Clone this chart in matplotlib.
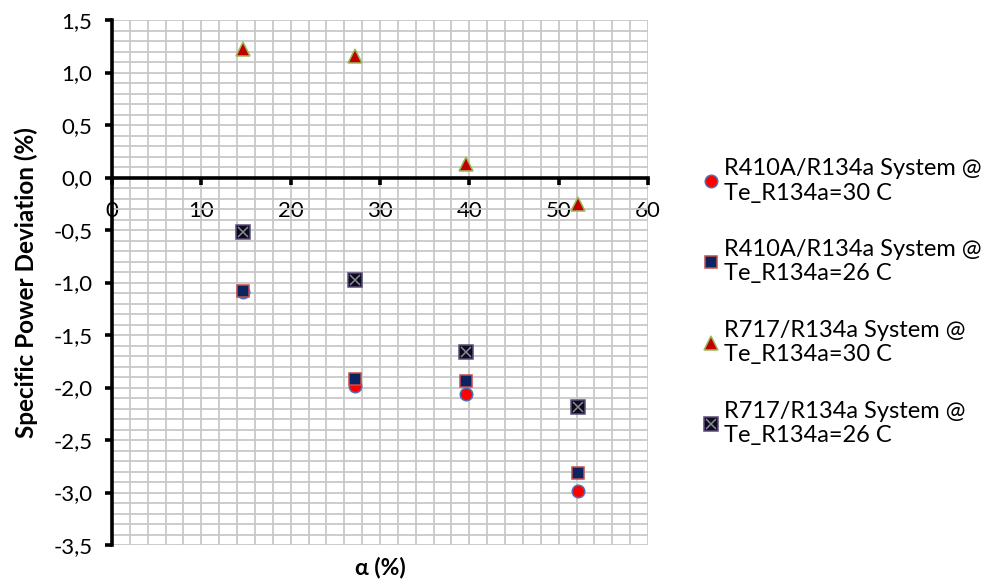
import matplotlib
matplotlib.use("Agg")
import matplotlib.pyplot as plt
from matplotlib.ticker import MultipleLocator, FuncFormatter

plt.rcParams['font.family'] = ['Lato', 'DejaVu Sans']

alpha = [14.7, 27.2, 39.6, 52.2]
r410a_30 = [-1.09, -1.99, -2.06, -2.99]
r410a_26 = [-1.08, -1.92, -1.94, -2.81]
r717_30 = [1.22, 1.16, 0.13, -0.25]
r717_26 = [-0.52, -0.98, -1.66, -2.19]

labels = [
    "R410A/R134a System @\nTe_R134a=30 C",
    "R410A/R134a System @\nTe_R134a=26 C",
    "R717/R134a System @\nTe_R134a=30 C",
    "R717/R134a System @\nTe_R134a=26 C",
]
x_ticks = [0, 10, 20, 30, 40, 50, 60]
y_ticks = [-3.5, -3.0, -2.5, -2.0, -1.5, -1.0, -0.5, 0.0, 0.5, 1.0, 1.5]

fig = plt.figure(figsize=(9.92, 5.8), dpi=100)
ax = fig.add_axes([0.1129, 0.0603, 0.5403, 0.9052])

ax.set_xlim(0, 60)
ax.set_ylim(-3.5, 1.5)
ax.set_xticks(x_ticks)
ax.set_yticks(y_ticks)
ax.xaxis.set_minor_locator(MultipleLocator(2))
ax.yaxis.set_minor_locator(MultipleLocator(0.1))
ax.grid(True, which='both', color='#c8c8c8', linewidth=1.3, zorder=0)
ax.set_axisbelow(True)

for s in ['top', 'right']:
    ax.spines[s].set_visible(False)
ax.spines['bottom'].set_position(('data', 0))
ax.spines['bottom'].set_linewidth(2.6)
ax.spines['left'].set_linewidth(2.6)
ax.tick_params(which='major', direction='out', length=5, width=2.6, labelsize=16, colors='black')
ax.tick_params(which='minor', length=0)
ax.tick_params(axis='x', pad=12)
ax.tick_params(axis='y', pad=9)
ax.yaxis.set_major_formatter(FuncFormatter(lambda v, p: f"{v:.1f}".replace('.', ',')))

h1, = ax.plot(alpha, r410a_30, 'o', ms=9, mfc='#ff0000', mec='#4f6fb0', mew=1.1, ls='none', zorder=3)
h2, = ax.plot(alpha, r410a_26, 's', ms=9, mfc='#0b2461', mec='#c0504d', mew=1.1, ls='none', zorder=4)
h3, = ax.plot(alpha, r717_30, '^', ms=9.5, mfc='#c00000', mec='#9bbb59', mew=1.1, ls='none', zorder=5)
h4a, = ax.plot(alpha, r717_26, 's', ms=9.5, mfc='#0d0d14', mec='#5b4a80', mew=1.1, ls='none', zorder=5)
h4b, = ax.plot(alpha, r717_26, 'x', ms=7, mec='#8a86a8', mew=1.1, ls='none', zorder=6)

ax.set_xlabel("α (%)", fontsize=16.5, fontweight='bold', va='center')
ax.xaxis.set_label_coords(0.5, -0.043)
ax.set_ylabel("Specific Power Deviation (%)", fontsize=17.5, fontweight='bold', va='center')
ax.yaxis.set_label_coords(-0.16, 0.5)

fig.legend([h1, h2, h3, (h4a, h4b)], labels, loc='center left',
           bbox_to_anchor=(0.687, 0.479), frameon=False, fontsize=17,
           labelspacing=1.5, handlelength=0.7, handletextpad=0.2, markerscale=1.0)

fig.savefig("out.png", dpi=100)
